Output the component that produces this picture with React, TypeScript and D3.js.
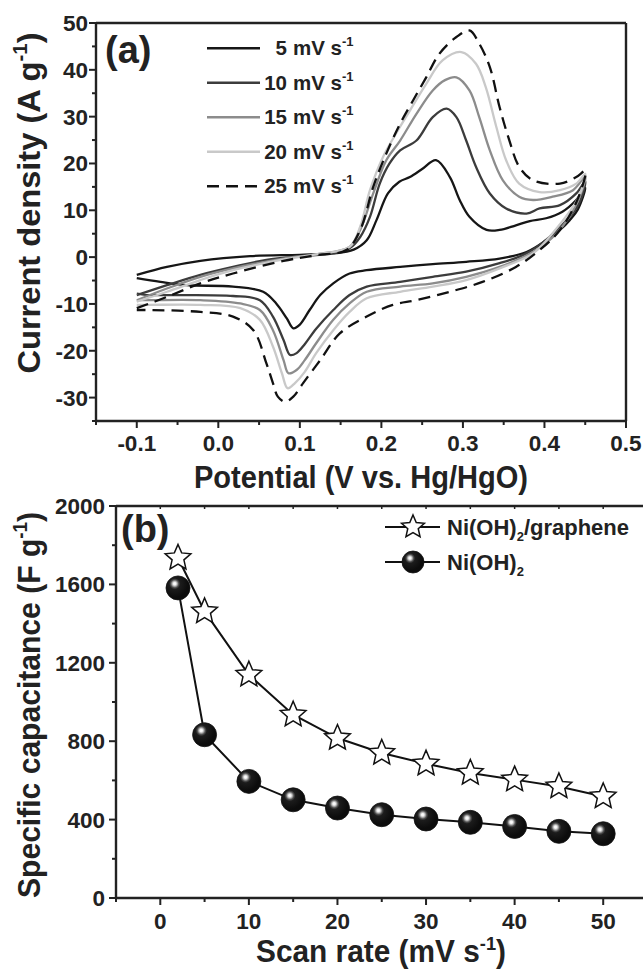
import React from 'react';
import * as d3 from 'd3';

type P = [number, number];

// ---- Panel (a): cyclic voltammograms (potential V, current density A/g) ----
const cvRates = ['5', '10', '15', '20', '25'];

const cv5: P[] = [
  [-0.1, -3.8], [-0.063, -2.1], [-0.022, -0.8], [0.039, 0.2], [0.1, 0.5], [0.141, 0.8], [0.166, 1.6],
  [0.182, 3.6], [0.194, 7.9], [0.208, 13.6], [0.222, 16.1], [0.235, 17.1], [0.25, 18.8], [0.267, 20.7],
  [0.284, 17.1], [0.296, 12.2], [0.308, 8.6], [0.329, 5.8], [0.345, 5.8], [0.365, 6.8], [0.382, 7.7],
  [0.402, 8.3], [0.422, 9.7], [0.439, 12.2], [0.45, 14.8],
  [0.441, 10.2], [0.431, 7.9], [0.419, 5.8], [0.402, 3.6], [0.378, 1.1], [0.345, -0.3], [0.304, -1.0],
  [0.263, -1.5], [0.223, -2.1], [0.182, -2.8], [0.161, -3.5], [0.141, -5.6], [0.125, -8.1],
  [0.112, -11.3], [0.1, -14.4], [0.092, -15.2], [0.084, -13.1], [0.071, -9.9], [0.055, -7.4],
  [0.018, -6.3], [-0.039, -6.0], [-0.071, -5.3], [-0.1, -4.5],
];

const cv10: P[] = [
  [-0.1, -8.1], [-0.063, -6.0], [-0.022, -3.8], [0.018, -2.1], [0.059, -0.6], [0.1, 0.2], [0.14, 0.8],
  [0.161, 1.9], [0.174, 4.3], [0.186, 8.6], [0.198, 15.7], [0.21, 20], [0.223, 22.8], [0.243, 24.9],
  [0.263, 29.9], [0.28, 31.7], [0.292, 29.9], [0.304, 24.9], [0.316, 19.3], [0.333, 13.6], [0.353, 10.4],
  [0.378, 9.3], [0.394, 10.4], [0.419, 11.1], [0.439, 13.6], [0.45, 16.2],
  [0.441, 11.0], [0.406, 4.3], [0.378, 0.8], [0.345, -1.3], [0.304, -3.1], [0.263, -4.2], [0.223, -5.3],
  [0.182, -6.3], [0.161, -8.1], [0.141, -11.3], [0.12, -15.3], [0.106, -18.6], [0.096, -20.5],
  [0.088, -20.9], [0.08, -17.7], [0.067, -12.7], [0.051, -9.2], [0.018, -8.3], [-0.043, -8.1],
  [-0.084, -8.1], [-0.1, -7.8],
];

const cv15: P[] = [
  [-0.1, -9.2], [-0.063, -6.7], [-0.022, -4.2], [0.018, -2.4], [0.08, -0.3], [0.12, 0.6], [0.161, 2.2],
  [0.174, 5.8], [0.19, 13.6], [0.206, 20.7], [0.223, 24.9], [0.243, 30.6], [0.263, 35.6], [0.278, 37.8],
  [0.292, 38.4], [0.308, 35.6], [0.32, 29.9], [0.333, 22.8], [0.349, 16.4], [0.369, 12.9], [0.386, 12.2],
  [0.41, 12.9], [0.435, 14.3], [0.45, 17.2],
  [0.441, 12.0], [0.415, 5.1], [0.386, 1.1], [0.345, -2.1], [0.304, -4.2], [0.263, -5.6], [0.223, -6.3],
  [0.182, -7.4], [0.161, -9.9], [0.141, -13.4], [0.12, -18.4], [0.106, -22.0], [0.096, -24.1],
  [0.086, -24.8], [0.08, -22.0], [0.067, -15.6], [0.051, -11.3], [0.027, -9.9], [-0.022, -9.2],
  [-0.084, -9.2], [-0.1, -9.2],
];

const cv20: P[] = [
  [-0.1, -9.5], [-0.063, -7.4], [-0.022, -4.9], [0.018, -2.8], [0.08, -0.5], [0.12, 0.6], [0.161, 2.2],
  [0.174, 6.5], [0.186, 14.3], [0.202, 21.4], [0.218, 26.4], [0.235, 31.3], [0.255, 37], [0.275, 42],
  [0.298, 43.8], [0.316, 41.3], [0.328, 36.3], [0.341, 27.8], [0.353, 20.7], [0.369, 15.7], [0.394, 13.9],
  [0.419, 14.3], [0.439, 15.7], [0.45, 17.8],
  [0.441, 12.5], [0.41, 5.1], [0.386, 0.8], [0.345, -2.4], [0.304, -4.9], [0.263, -6.3], [0.223, -7.4],
  [0.182, -8.8], [0.161, -11.7], [0.141, -15.6], [0.12, -20.5], [0.106, -24.5], [0.094, -26.9],
  [0.085, -28.0], [0.078, -24.8], [0.067, -19.1], [0.051, -13.4], [0.027, -10.9], [-0.022, -10.2],
  [-0.084, -10.2], [-0.1, -10.2],
];

const cv25: P[] = [
  [-0.1, -10.9], [-0.063, -8.5], [-0.022, -5.6], [0.018, -3.5], [0.08, -0.8], [0.12, 0.4], [0.157, 1.5],
  [0.174, 5.8], [0.19, 15], [0.206, 22.1], [0.223, 28.5], [0.239, 33.5], [0.255, 38.4], [0.271, 43.4],
  [0.292, 47], [0.308, 48.4], [0.32, 45.6], [0.333, 40.6], [0.345, 32], [0.357, 24.9], [0.369, 19.3],
  [0.386, 16.4], [0.419, 15.7], [0.439, 17.1], [0.45, 18.4],
  [0.441, 12.5], [0.419, 5.8], [0.394, 1.5], [0.365, -2.1], [0.324, -5.3], [0.284, -7.4], [0.243, -9.2],
  [0.214, -10.2], [0.182, -12.7], [0.149, -16.3], [0.125, -22.0], [0.104, -26.9], [0.092, -29.8],
  [0.082, -30.9], [0.073, -29.8], [0.067, -26.9], [0.059, -22.7], [0.043, -15.6], [0.018, -12.7],
  [-0.022, -11.7], [-0.084, -11.3], [-0.1, -11.3],
];

const cvSeries = [cv5, cv10, cv15, cv20, cv25];
const cvColors = ['#161616', '#3c3c3c', '#8c8c8c', '#c9c9c9', '#111111'];
const cvDash = [null, null, null, null, '12,7'];

const aXTicks = [-0.1, 0.0, 0.1, 0.2, 0.3, 0.4, 0.5];
const aYTicks = [-30, -20, -10, 0, 10, 20, 30, 40, 50];

// ---- Panel (b): specific capacitance vs scan rate ----
const scanRates = [2, 5, 10, 15, 20, 25, 30, 35, 40, 45, 50];
const capGraphene = [1735, 1462, 1139, 935, 816, 740, 685, 638, 604, 569, 518];
const capNiOH = [1582, 833, 595, 501, 459, 425, 403, 386, 365, 340, 328];
const bXTicks = [0, 10, 20, 30, 40, 50];
const bYTicks = [0, 400, 800, 1200, 1600, 2000];

const FONT = "'Liberation Sans', Arial, Helvetica, sans-serif";

const xA = d3.scaleLinear().domain([-0.15, 0.5]).range([96, 626]);
const yA = d3.scaleLinear().domain([-35, 50]).range([421, 23]);
const xB = d3.scaleLinear().domain([-5, 55]).range([116, 647.5]);
const yB = d3.scaleLinear().domain([0, 2000]).range([898, 506]);

function starPath(R: number): string {
  const pts: [number, number][] = [];
  for (let i = 0; i < 10; i++) {
    pts.push([i * Math.PI / 5, i % 2 === 0 ? R : R * 0.46]);
  }
  const lr = d3.lineRadial<[number, number]>().angle(d => d[0]).radius(d => d[1]).curve(d3.curveLinearClosed);
  return lr(pts) as string;
}

const AXW = 2.4;
const TICKFS = 22.5;

export default function App() {
  const cvLine = d3.line<P>().x(d => xA(d[0])).y(d => yA(d[1])).curve(d3.curveCatmullRom.alpha(0.5));
  const bLineG = d3.line<number>().x((_, i) => xB(scanRates[i])).y(d => yB(d));
  const star = starPath(13.5);
  const starLeg = starPath(12);

  const aMinorX = d3.range(-0.15, 0.5001, 0.05);
  const aMinorY = d3.range(-35, 50.001, 5);
  const bMinorX = d3.range(-5, 55.001, 5);
  const bMinorY = d3.range(0, 2000.1, 200);

  const legY0 = 48.3, legStep = 34.5;

  return (
    <svg width={643} height={971} style={{ position: 'absolute', left: 0, top: 0, background: '#fff' }}
      fontFamily={FONT} fontWeight="bold">
      <defs>
        <radialGradient id="ball" cx="0.37" cy="0.34" r="0.55" fx="0.36" fy="0.32">
          <stop offset="0" stopColor="#ffffff" />
          <stop offset="0.1" stopColor="#f2f2f2" />
          <stop offset="0.2" stopColor="#a8a8a8" />
          <stop offset="0.3" stopColor="#505050" />
          <stop offset="0.42" stopColor="#1c1c1c" />
          <stop offset="1" stopColor="#0c0c0c" />
        </radialGradient>
        <clipPath id="clipA"><rect x={96} y={23} width={530} height={398} /></clipPath>
      </defs>
      <rect x={0} y={0} width={643} height={971} fill="#fff" />

      {/* ===== Panel (a) ===== */}
      <g clipPath="url(#clipA)">
        {cvSeries.map((s, i) => (
          <path key={i} d={cvLine(s) as string} fill="none" stroke={cvColors[i]} strokeWidth={2.3}
            strokeDasharray={cvDash[i] ?? undefined} strokeLinejoin="round" />
        ))}
      </g>
      {/* frame */}
      <line x1={96} x2={626} y1={23} y2={23} stroke="#222" strokeWidth={AXW} />
      <line x1={626} x2={626} y1={23} y2={421} stroke="#222" strokeWidth={AXW} />
      <line x1={96} x2={626} y1={421} y2={421} stroke="#222" strokeWidth={AXW} />
      <line x1={96} x2={96} y1={23} y2={421} stroke="#222" strokeWidth={AXW} />
      {aMinorX.map((t, i) => (
        <line key={'amx' + i} x1={xA(t)} x2={xA(t)} y1={421} y2={421 + (i % 2 === 1 ? 7 : 4)} stroke="#222" strokeWidth={2} />
      ))}
      {aMinorY.map((t, i) => (
        <line key={'amy' + i} x1={96} x2={96 - (i % 2 === 1 ? 7 : 4)} y1={yA(t)} y2={yA(t)} stroke="#222" strokeWidth={2} />
      ))}
      {aXTicks.map(t => (
        <text key={'axt' + t} x={xA(t)} y={451} textAnchor="middle" fontSize={TICKFS} fill="#222">{t.toFixed(1)}</text>
      ))}
      {aYTicks.map(t => (
        <text key={'ayt' + t} x={88} y={yA(t) + 8} textAnchor="end" fontSize={TICKFS} fill="#222">{t}</text>
      ))}
      <text x={105} y={63} fontSize={38} fill="#222">(a)</text>
      {/* legend a */}
      {cvRates.map((r, i) => {
        const y = legY0 + i * legStep;
        return (
          <g key={'leg' + r}>
            <line x1={207} x2={260} y1={y} y2={y} stroke={cvColors[i]} strokeWidth={2.5}
              strokeDasharray={cvDash[i] ?? undefined} />
            <text x={287} y={y + 7} textAnchor="end" fontSize={20.5} fill="#222">{r}</text>
            <text x={293} y={y + 7} fontSize={20.5} fill="#222">mV s<tspan fontSize={13} dy={-9}>-1</tspan></text>
          </g>
        );
      })}
      {/* axis titles a */}
      <text x={361} y={488} textAnchor="middle" fontSize={32} fill="#222" textLength={334} lengthAdjust="spacingAndGlyphs">
        Potential (V vs. Hg/HgO)
      </text>
      <text transform="translate(40,203) rotate(-90)" textAnchor="middle" fontSize={32} fill="#222"
        textLength={341} lengthAdjust="spacingAndGlyphs">
        Current density (A g<tspan fontSize={20} dy={-13}>-1</tspan><tspan dy={13}>)</tspan>
      </text>

      {/* ===== Panel (b) ===== */}
      <line x1={116} x2={643} y1={506} y2={506} stroke="#222" strokeWidth={AXW} />
      <line x1={116} x2={643} y1={898} y2={898} stroke="#222" strokeWidth={AXW} />
      <line x1={116} x2={116} y1={506} y2={898} stroke="#222" strokeWidth={AXW} />
      {bMinorX.map((t, i) => (
        <g key={'bmx' + i}>
          <line x1={xB(t)} x2={xB(t)} y1={898} y2={898 + (i % 2 === 1 ? 7 : 4)} stroke="#222" strokeWidth={2} />
          <line x1={xB(t)} x2={xB(t)} y1={506} y2={509} stroke="#222" strokeWidth={1.5} />
        </g>
      ))}
      {bMinorY.map((t, i) => (
        <line key={'bmy' + i} x1={116} x2={116 - (i % 2 === 0 ? 7 : 4)} y1={yB(t)} y2={yB(t)} stroke="#222" strokeWidth={2} />
      ))}
      {bXTicks.map(t => (
        <text key={'bxt' + t} x={xB(t)} y={929} textAnchor="middle" fontSize={TICKFS} fill="#222">{t}</text>
      ))}
      {bYTicks.map(t => (
        <text key={'byt' + t} x={105} y={yB(t) + 8} textAnchor="end" fontSize={TICKFS} fill="#222">{t}</text>
      ))}
      <text x={121} y={542} fontSize={38} fill="#222">(b)</text>

      <path d={bLineG(capGraphene) as string} fill="none" stroke="#111" strokeWidth={2} />
      <path d={bLineG(capNiOH) as string} fill="none" stroke="#111" strokeWidth={2} />
      {capNiOH.map((v, i) => (
        <circle key={'s' + i} cx={xB(scanRates[i])} cy={yB(v)} r={12} fill="url(#ball)" stroke="#111" strokeWidth={0.8} />
      ))}
      {capGraphene.map((v, i) => (
        <path key={'st' + i} d={star} transform={`translate(${xB(scanRates[i])},${yB(v)})`} fill="#fff" stroke="#111" strokeWidth={1.5} strokeLinejoin="miter" />
      ))}

      {/* legend b */}
      <line x1={385} x2={440} y1={527} y2={527} stroke="#111" strokeWidth={2} />
      <path d={starLeg} transform="translate(413,527)" fill="#fff" stroke="#111" strokeWidth={1.5} />
      <text x={447} y={535} fontSize={22} fill="#222">Ni(OH)<tspan fontSize={13} dy={6}>2</tspan><tspan dy={-6}>/graphene</tspan></text>
      <line x1={385} x2={440} y1={562} y2={562} stroke="#111" strokeWidth={2} />
      <circle cx={413} cy={562} r={11} fill="url(#ball)" stroke="#111" strokeWidth={0.8} />
      <text x={447} y={570} fontSize={22} fill="#222">Ni(OH)<tspan fontSize={13} dy={6}>2</tspan></text>

      {/* axis titles b */}
      <text x={381} y={962} textAnchor="middle" fontSize={31} fill="#222" textLength={250} lengthAdjust="spacingAndGlyphs">
        Scan rate (mV s<tspan fontSize={19} dy={-12}>-1</tspan><tspan dy={12}>)</tspan>
      </text>
      <text transform="translate(40,705) rotate(-90)" textAnchor="middle" fontSize={32} fill="#222"
        textLength={386} lengthAdjust="spacingAndGlyphs">
        Specific capacitance (F g<tspan fontSize={20} dy={-13}>-1</tspan><tspan dy={13}>)</tspan>
      </text>
    </svg>
  );
}
